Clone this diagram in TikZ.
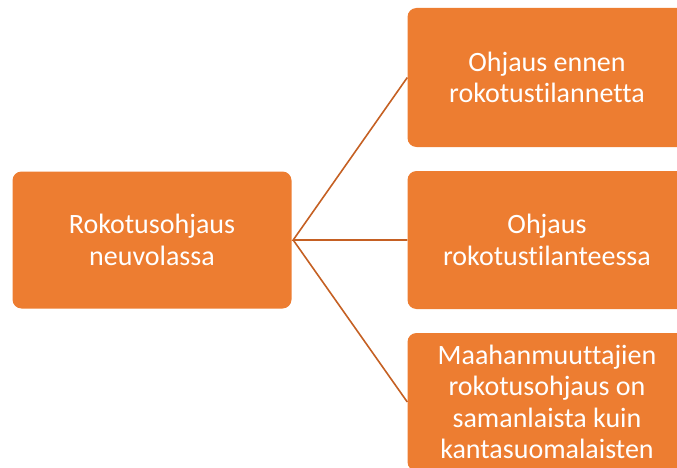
\documentclass[tikz,border=0pt]{standalone}
\usepackage{fontspec}
\setmainfont[Ligatures=NoCommon]{Carlito}
\definecolor{boxfill}{RGB}{237,125,49}
\definecolor{linkcol}{RGB}{197,96,35}
\begin{document}
\begin{tikzpicture}[x=1pt,y=-1pt,
  box/.style={draw=none,fill=boxfill,rounded corners=9pt,minimum width=279pt,inner sep=0pt,
    text=white,align=center,font=\fontsize{28pt}{31.5pt}\selectfont},
  link/.style={draw=linkcol,line width=1.6pt}]
\useasboundingbox (0,0) rectangle (677,468);
\begin{scope}
\clip (0,0) rectangle (677,468);
\node[box,minimum height=137pt] (root) at (152,240) {Rokotusohjaus\\neuvolassa};
\node[box,minimum height=139pt] (a) at (547,77.5) {Ohjaus ennen\\rokotustilannetta};
\node[box,minimum height=138pt] (b) at (547,240) {Ohjaus\\rokotustilanteessa};
\node[box,minimum height=138pt] (c) at (547,402) {Maahanmuuttajien\\rokotusohjaus on\\samanlaista kuin\\kantasuomalaisten};
\end{scope}
\coordinate (hub) at ([xshift=1.5pt]root.east);
\draw[link] (a.west) -- (hub) -- (b.west);
\draw[link] (hub) -- (c.west);
\end{tikzpicture}
\end{document}
